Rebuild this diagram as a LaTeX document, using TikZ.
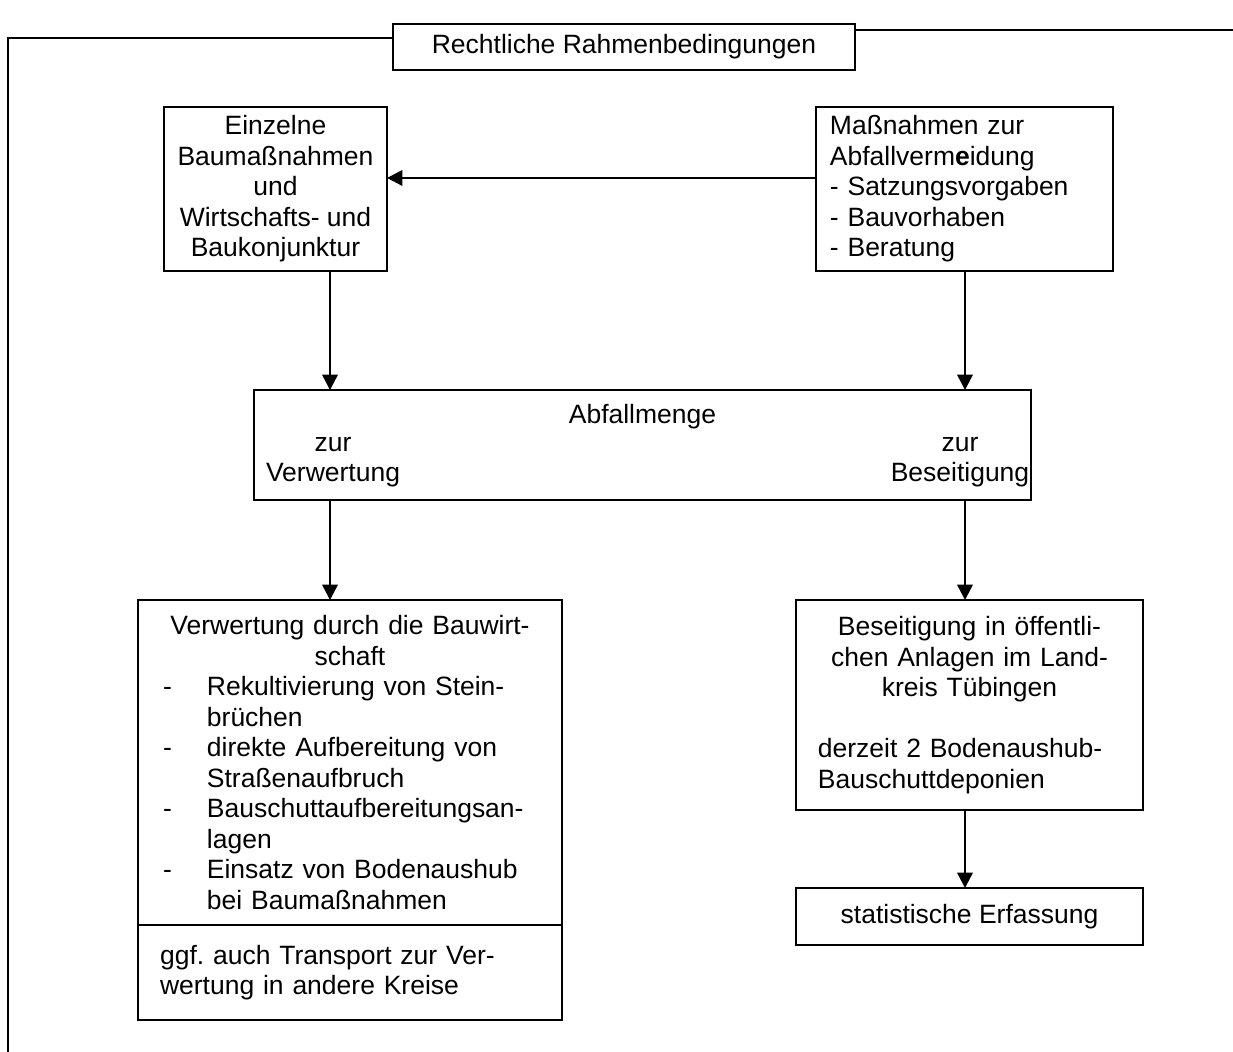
\documentclass[tikz,border=0pt]{standalone}
\usepackage{fontspec}
\setmainfont{Liberation Sans}
\usetikzlibrary{arrows.meta,positioning}
\newcommand{\dashitem}[1]{\makebox[19.9pt][l]{-}#1}
\newcommand{\dashcont}[1]{\hspace*{19.9pt}#1}
\frenchspacing

\begin{document}
\begin{tikzpicture}[x=0.453pt,y=-0.453pt,
font=\fontsize{12pt}{13.8pt}\selectfont,
box/.style={draw,line width=0.9pt,inner sep=0pt,outer sep=0pt,align=center},
link/.style={line width=0.9pt},
arr/.style={-{Triangle[length=7pt,width=7pt]},line width=1.1pt}]
\useasboundingbox (0,0) rectangle (1233,1052);
% Rahmen oben
\node[box,minimum width=209.3pt,minimum height=20.8pt] (rahmen) at (624,47) {\raisebox{1.8pt}{Rechtliche Rahmenbedingungen}};
\coordinate (rahmenlinks) at (8,1052);
\coordinate (rahmenrechts) at (1233,30);
\draw[link] ([yshift=4.1pt]rahmen.west) -| (rahmenlinks);
\draw[link] ([yshift=7.7pt]rahmen.east) -- (rahmenrechts);
% obere Reihe
\node[box,minimum width=101pt,minimum height=74.3pt] (einz) at (275.5,189) {Einzelne\\Baumaßnahmen\\und\\Wirtschafts- und\\Baukonjunktur};
\node[box,minimum width=134.5pt,minimum height=74.3pt,text width=121.9pt,align=left] (mass) at (964.5,189) {Maßnahmen zur\\Abfallverm\textbf{e}idung\\- Satzungsvorgaben\\- Bauvorhaben\\- Beratung};
% Abfallmenge
\node[box,minimum width=352pt,minimum height=49.8pt] (abfall) at (642.5,445) {};
\node (abfalltitel) at (642.5,417) {Abfallmenge};
\node[align=center] (zurverw) at (333,462) {zur\\Verwertung};
\node[align=center] (zurbes) at (960,462) {zur\\Beseitigung};
% untere Reihe
\node[box,minimum width=192.1pt,minimum height=147.2pt,text width=169.4pt,align=left] (verwup) at (350,762.5) {{\centering Verwertung durch die Bauwirt-\\schaft\par}
\dashitem{Rekultivierung von Stein-}\\
\dashcont{brüchen}\\
\dashitem{direkte Aufbereitung von}\\
\dashcont{Straßenaufbruch}\\
\dashitem{Bauschuttaufbereitungsan-}\\
\dashcont{lagen}\\
\dashitem{Einsatz von Bodenaushub}\\
\dashcont{bei Baumaßnahmen}};
\node[box,below=0pt of verwup,minimum width=192.1pt,minimum height=43pt,text width=172.1pt,align=left] (verwdown) {ggf. auch Transport zur Ver-\\wertung in andere Kreise};
\node[box,minimum width=157.2pt,minimum height=95.1pt,text width=137.3pt,align=left] (bes) at (969.5,705) {{\centering Beseitigung in öffentli-\\chen Anlagen im Land-\\kreis Tübingen\par}
\vspace{13.8pt}
derzeit 2 Bodenaushub-\\Bauschuttdeponien};
\node[box,minimum width=157.2pt,minimum height=25.8pt] (stat) at (969.5,916.5) {statistische Erfassung};
% Pfeile
\coordinate (lx) at (330,0);
\coordinate (rx) at (965,0);
\draw[arr] ([yshift=5pt]mass.west) -- ([yshift=5pt]einz.east);
\draw[arr] (lx |- einz.south) -- (lx |- abfall.north);
\draw[arr] (rx |- mass.south) -- (rx |- abfall.north);
\draw[arr] (lx |- abfall.south) -- (lx |- verwup.north);
\draw[arr] (rx |- abfall.south) -- (rx |- bes.north);
\draw[arr] (rx |- bes.south) -- (rx |- stat.north);
\end{tikzpicture}
\end{document}
